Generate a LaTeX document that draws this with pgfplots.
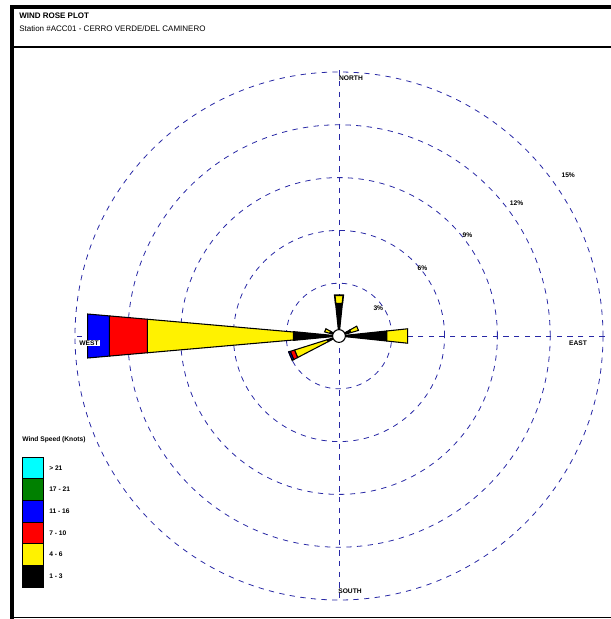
\documentclass[border=0pt]{standalone}
\usepackage{pgfplots}
\pgfplotsset{compat=1.18}
\usepgfplotslibrary{polar}
\usepackage{fontspec}
\setmainfont{Liberation Sans}
\definecolor{ringblue}{RGB}{40,40,165}
\definecolor{wgreen}{RGB}{0,128,0}
\definecolor{wcyan}{RGB}{0,255,255}
\begin{document}
\begin{tikzpicture}
\useasboundingbox (0,0) rectangle (458.25pt,464.25pt);
% frame
\fill[black] (7.5pt,457.5pt) rectangle (458.25pt,460.5pt);
\fill[black] (7.5pt,0pt) rectangle (10.5pt,460.5pt);
\draw[line width=1pt] (10.5pt,429pt) -- (458.25pt,429pt);
\draw[line width=1.2pt] (10.5pt,1pt) -- (458.25pt,1pt);
\node[anchor=base west,inner sep=0pt,font=\fontsize{6}{7}\selectfont\bfseries] at (14.25pt,450pt) {WIND ROSE PLOT};
\node[anchor=base west,inner sep=0pt,font=\fontsize{6}{7}\selectfont] at (14.25pt,440.25pt) {Station \#ACC01 - CERRO VERDE/DEL CAMINERO};

\begin{polaraxis}[
    at={(254.25pt,212.25pt)}, anchor=origin,
    scale only axis, width=398.64pt, height=398.64pt,
    ymin=0, ymax=15.1,
    xtick=\empty, ytick={3,6,9,12,15},
    xticklabels={}, yticklabels={},
    xmajorgrids=false, ymajorgrids=true,
    major y grid style={ringblue, dash pattern=on 4pt off 4pt, line width=0.6pt},
    axis line style={draw=none},
    major tick length=0pt,
    clip=false,
]
% compass lines
\addplot[ringblue, dash pattern=on 4pt off 4pt, line width=0.6pt] coordinates {(90,15.1) (90,0) (270,15.1)};
\addplot[ringblue, dash pattern=on 4pt off 4pt, line width=0.6pt] coordinates {(0,15.1) (0,0) (180,15.1)};
% West
\addplot[fill=black, draw=black, line width=0.8pt] coordinates {(174.5,0) (185.5,0) (185.5,2.6) (174.5,2.6) (174.5,0)};
\addplot[fill=yellow, draw=black, line width=0.8pt] coordinates {(175,2.6) (185,2.6) (185,10.93) (175,10.93) (175,2.6)};
\addplot[fill=red, draw=black, line width=0.8pt] coordinates {(175,10.93) (185,10.93) (185,13.1) (175,13.1) (175,10.93)};
\addplot[fill=blue, draw=black, line width=0.8pt] coordinates {(175,13.1) (185,13.1) (185,14.34) (175,14.34) (175,13.1)};
% East
\addplot[fill=black, draw=black, line width=0.8pt] coordinates {(-6,0) (6,0) (6,2.73) (-6,2.73) (-6,0)};
\addplot[fill=yellow, draw=black, line width=0.8pt] coordinates {(-6,2.73) (6,2.73) (6,3.92) (-6,3.92) (-6,2.73)};
% North
\addplot[fill=black, draw=black, line width=0.8pt] coordinates {(84,0) (96,0) (96,1.85) (84,1.85) (84,0)};
\addplot[fill=yellow, draw=black, line width=1.2pt] coordinates {(84,1.85) (96,1.85) (96,2.33) (84,2.33) (84,1.85)};
% WSW
\addplot[fill=black, draw=black, line width=0.8pt] coordinates {(197.5,0) (207.5,0) (207.5,0.7) (197.5,0.7) (197.5,0)};
\addplot[fill=yellow, draw=black, line width=0.8pt] coordinates {(197.5,0.7) (207.5,0.7) (207.5,2.65) (197.5,2.65) (197.5,0.7)};
\addplot[fill=red, draw=black, line width=0.8pt] coordinates {(197.5,2.65) (207.5,2.65) (207.5,2.9) (197.5,2.9) (197.5,2.65)};
\addplot[fill=blue, draw=black, line width=0.8pt] coordinates {(197.5,2.9) (207.5,2.9) (207.5,3.0) (197.5,3.0) (197.5,2.9)};
% ENE
\addplot[fill=black, draw=black, line width=0.8pt] coordinates {(16,0) (29,0) (29,0.7) (16,0.7) (16,0)};
\addplot[fill=yellow, draw=black, line width=0.8pt] coordinates {(16,0.7) (29,0.7) (29,1.15) (16,1.15) (16,0.7)};
% WNW
\addplot[fill=black, draw=black, line width=0.8pt] coordinates {(151,0) (164,0) (164,0.55) (151,0.55) (151,0)};
\addplot[fill=yellow, draw=black, line width=0.8pt] coordinates {(151,0.55) (164,0.55) (164,0.85) (151,0.85) (151,0.55)};
% calm circle
\addplot[only marks, mark=*, mark size=4.8pt, mark options={fill=white, draw=black, line width=0.8pt}] coordinates {(0,0)};
% ring labels
\node[font=\fontsize{5}{6}\selectfont\bfseries] at (axis cs:35,2.73) {3\%};
\node[font=\fontsize{5}{6}\selectfont\bfseries] at (axis cs:39,6.1) {6\%};
\node[font=\fontsize{5}{6}\selectfont\bfseries] at (axis cs:38,9.26) {9\%};
\node[font=\fontsize{5}{6}\selectfont\bfseries] at (axis cs:36.8,12.6) {12\%};
\node[font=\fontsize{5}{6}\selectfont\bfseries] at (axis cs:35,15.9) {15\%};
\end{polaraxis}

% direction labels
\node[font=\fontsize{5}{6}\selectfont\bfseries, inner sep=0.5pt] at (263.25pt,405.75pt) {NORTH};
\node[font=\fontsize{5}{6}\selectfont\bfseries, inner sep=0.5pt] at (433.5pt,207pt) {EAST};
\node[font=\fontsize{5}{6}\selectfont\bfseries, inner sep=0.5pt] at (262.5pt,21pt) {SOUTH};
\node[font=\fontsize{5}{6}\selectfont\bfseries, inner sep=0.8pt, fill=white] at (66.75pt,207pt) {WEST};

% legend
\node[anchor=west, inner sep=0pt, font=\fontsize{5}{6}\selectfont\bfseries] at (16.5pt,134.25pt) {Wind Speed (Knots)};
\foreach \c/\t [count=\i from 0] in {wcyan/> 21, wgreen/17 - 21, blue/11 - 16, red/7 - 10, yellow/4 - 6, black/1 - 3} {
  \pgfmathsetmacro{\yt}{121.5-16.25*\i}
  \filldraw[fill=\c, draw=black, line width=0.6pt] (16.5pt,\yt pt) rectangle (32.25pt,\yt pt-16.25pt);
  \node[anchor=west, inner sep=0pt, font=\fontsize{5}{6}\selectfont\bfseries] at (36.75pt,\yt pt-8.125pt) {\t};
}
\end{tikzpicture}
\end{document}
